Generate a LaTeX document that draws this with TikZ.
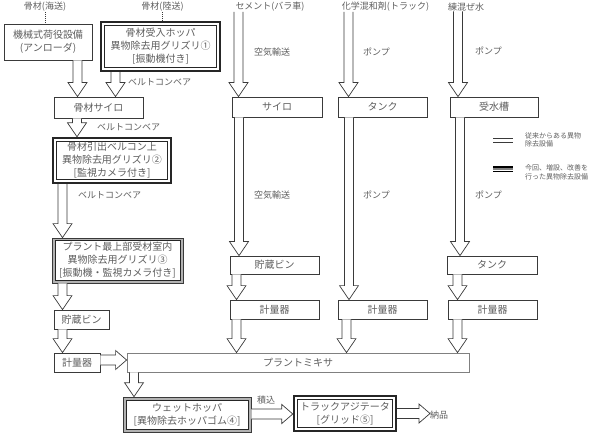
\documentclass[tikz,border=0pt]{standalone}
\usepackage{fontspec}
\setmainfont{Noto Sans CJK JP}
\usetikzlibrary{calc}
\definecolor{txt}{HTML}{5E5E5E}
\definecolor{ln}{HTML}{3A3A3A}
\tikzset{
 lab/.style={text=txt, font=\fontsize{9}{12}\selectfont, inner sep=0pt},
 leg/.style={text=txt, font=\fontsize{7}{8.5}\selectfont, inner sep=0pt, align=left, anchor=west},
 box/.style={draw=ln, line width=0.8pt, fill=white, text=txt, font=\fontsize{10}{13}\selectfont, align=center, inner sep=0pt},
 newbox/.style={box, line width=2.4pt, draw=black!85,
   path picture={\draw[black!85,line width=0.8pt] ([shift={(3.4pt,-3.4pt)}]path picture bounding box.north west) rectangle ([shift={(-3.4pt,3.4pt)}]path picture bounding box.south east);}},
 grayband/.style={box, draw=ln, line width=0.7pt,
   path picture={\fill[gray!60] (path picture bounding box.north west) rectangle (path picture bounding box.south east);
     \draw[black!85,line width=1pt,fill=white] ([shift={(3pt,-3pt)}]path picture bounding box.north west) rectangle ([shift={(-3pt,3pt)}]path picture bounding box.south east);}},
 barrow/.style={draw=ln, line width=0.7pt, fill=white, line join=miter},
 dotline/.style={draw=ln, line width=1pt, densely dotted},
}
% vertical hollow arrow: x, from node, to node
\newcommand{\vdown}[3]{%
 \draw[barrow] let \p1=(#2.south), \p2=(#3.north) in
 ({#1pt-4.5pt},\y1) -- ({#1pt-4.5pt},\y2+14pt) -- ({#1pt-9.5pt},\y2+14pt) -- (#1pt,\y2)
 -- ({#1pt+9.5pt},\y2+14pt) -- ({#1pt+4.5pt},\y2+14pt) -- ({#1pt+4.5pt},\y1);}
% horizontal hollow arrow: y (pixel), from node, to node
\newcommand{\hright}[3]{%
 \draw[barrow] let \p1=(#2.east), \p2=(#3.west) in
 (\x1,{-#1pt+5pt}) -- ({\x2-11pt},{-#1pt+5pt}) -- ({\x2-11pt},{-#1pt+9.5pt}) -- (\x2,{-#1pt})
 -- ({\x2-11pt},{-#1pt-9.5pt}) -- ({\x2-11pt},{-#1pt-5pt}) -- (\x1,{-#1pt-5pt});}
\begin{document}
\begin{tikzpicture}[x=1pt,y=1pt]
\useasboundingbox (0,0) rectangle (595,-433);
% top labels
\node[lab] (l1) at (45,-7) {骨材(海送)};
\node[lab] (l2) at (162.5,-7) {骨材(陸送)};
\node[lab] (l3) at (270,-7) {セメント(バラ車)};
\node[lab] (l4) at (385.5,-7) {化学混和剤(トラック)};
\node[lab] (l5) at (466,-7) {練混ぜ水};
% aggregate line
\node[box, minimum width=88, minimum height=36] (b1) at (48,-42) {機械式荷役設備\\(アンローダ)};
\node[newbox, minimum width=119, minimum height=49] (b2) at (160.5,-46.5) {骨材受入ホッパ\\異物除去用グリズリ①\\{[}振動機付き]};
\node[box, minimum width=89, minimum height=21] (asilo) at (98.5,-107.5) {骨材サイロ};
\node[newbox, minimum width=118, minimum height=45] (b4) at (112,-160.5) {骨材引出ベルコン上\\異物除去用グリズリ②\\{[}監視カメラ付き]};
\node[grayband, minimum width=131, minimum height=45] (b5) at (117.5,-260.5) {プラント最上部受材室内\\異物除去用グリズリ③\\{[}振動機・監視カメラ付き]};
\node[box, minimum width=55, minimum height=19] (bin1) at (81.5,-319.5) {貯蔵ビン};
\node[box, minimum width=46, minimum height=19] (meas1) at (77,-362.5) {計量器};
\node[box, draw=gray, minimum width=342, minimum height=19] (mixer) at (298,-362.5) {プラントミキサ};
\node[grayband, minimum width=128, minimum height=35] (wet) at (187,-414.5) {ウェットホッパ\\{[}異物除去ホッパゴム④]};
\node[newbox, minimum width=102, minimum height=35] (truck) at (345,-413.5) {トラックアジテータ\\{[}グリッド⑤]};
% other columns
\node[box, minimum width=90, minimum height=20] (csilo) at (277,-107) {サイロ};
\node[box, minimum width=89, minimum height=20] (ctank) at (382.5,-107) {タンク};
\node[box, minimum width=88, minimum height=20] (wtank) at (494,-107) {受水槽};
\node[box, minimum width=89, minimum height=18] (cbin) at (274.5,-265) {貯蔵ビン};
\node[box, minimum width=90, minimum height=18] (wtank2) at (492,-265) {タンク};
\node[box, minimum width=89, minimum height=19] (cmeas) at (274.5,-309.5) {計量器};
\node[box, minimum width=89, minimum height=19] (chmeas) at (382.5,-309.5) {計量器};
\node[box, minimum width=89, minimum height=19] (wmeas) at (492.5,-309.5) {計量器};
% side labels
\node[lab, anchor=west] (bc1) at (128,-82) {ベルトコンベア};
\node[lab, anchor=west] (bc2) at (97,-127) {ベルトコンベア};
\node[lab, anchor=west] (bc3) at (78,-195) {ベルトコンベア};
\node[lab, anchor=west] (air1) at (254,-52) {空気輸送};
\node[lab, anchor=west] (air2) at (254,-195) {空気輸送};
\node[lab, anchor=west] (p1) at (363,-52) {ポンプ};
\node[lab, anchor=west] (p2) at (475,-51) {ポンプ};
\node[lab, anchor=west] (p3) at (363,-195) {ポンプ};
\node[lab, anchor=west] (p4) at (475,-195) {ポンプ};
\node[lab, anchor=west] (load) at (257,-400) {積込};
\node[lab, anchor=west] (deliv) at (430,-415) {納品};
% dotted feeds
\draw[dotline] (l1.south) -- (l1.south |- b1.north);
\draw[dotline] (l2.south) -- (l2.south |- b2.north);
% arrows
\vdown{77.5}{b1}{asilo}
\vdown{115.5}{b2}{asilo}
\vdown{77}{asilo}{b4}
\vdown{62.5}{b4}{b5}
\vdown{62.5}{b5}{bin1}
\vdown{62.5}{bin1}{meas1}
\hright{360}{meas1}{mixer}
\vdown{134}{mixer}{wet}
\hright{414}{wet}{truck}
\hright{413.5}{truck}{deliv}
\vdown{238.5}{l3}{csilo}
\vdown{348.5}{l4}{ctank}
\vdown{458}{l5}{wtank}
\vdown{239}{csilo}{cbin}
\vdown{349}{ctank}{chmeas}
\vdown{460}{wtank}{wtank2}
\vdown{236.5}{cbin}{cmeas}
\vdown{457.5}{wtank2}{wmeas}
\vdown{236.5}{cmeas}{mixer}
\vdown{346.5}{chmeas}{mixer}
\vdown{457.5}{wmeas}{mixer}
% legend
\draw[ln, line width=0.9pt] (493,-138) -- (513,-138) (493,-142) -- (513,-142);
\draw[black, line width=1.4pt] (493,-167) -- (513,-167) (493,-171.6) -- (513,-171.6);
\draw[gray, line width=1.6pt] (493,-169.3) -- (513,-169.3);
\node[leg] (leg1) at (525,-140) {従来からある異物\\除去設備};
\node[leg] (leg2) at (525,-172.5) {今回、増設、改善を\\行った異物除去設備};
\end{tikzpicture}
\end{document}
